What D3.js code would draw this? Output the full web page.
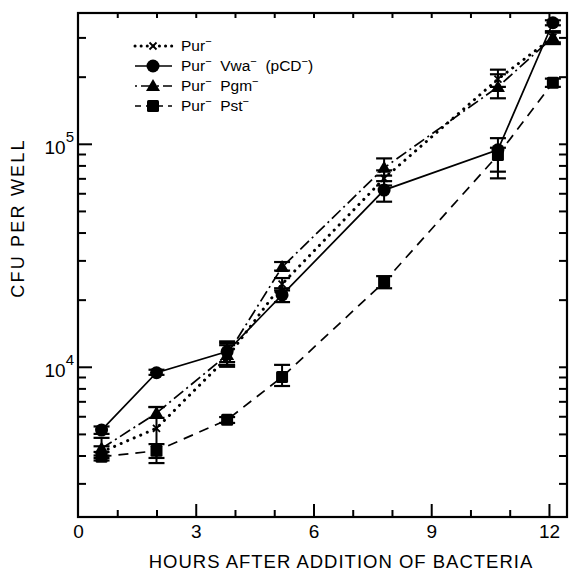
<!DOCTYPE html>
<html><head><meta charset="utf-8">
<script src="https://cdn.jsdelivr.net/npm/d3@7"></script>
<style>body{margin:0;background:#fff}svg{display:block}text{font-family:"Liberation Sans",Arial,sans-serif;fill:#000}</style>
</head><body><svg id="c" width="569" height="575"></svg>
<script>
// Data
const hours = [0.6, 2.0, 3.8, 5.2, 7.8, 10.7, 12.1];
const purVal = [4150, 5300, 11000, 23500, 70000, 195000, 300000];
const purLo  = [3900, 3900, 10000, 22000, 65000, 180000, 285000];
const purHi  = [4400, 6600, 12500, 25000, 76000, 215000, 315000];
const vwaVal = [5200, 9400, 11700, 21000, 62000, 94000, 349000];
const vwaLo  = [5000, 9200, 10500, 19500, 55000, 75000, 340000];
const vwaHi  = [5400, 9700, 13000, 22500, 68000, 106000, 358000];
const pgmVal = [4300, 6200, 11300, 28000, 78000, 180000, 300000];
const pgmLo  = [4000, 5900, 10200, 27000, 72000, 160000, 280000];
const pgmHi  = [4800, 6600, 12800, 29500, 86000, 205000, 320000];
const pstVal = [3950, 4200, 5780, 9000, 24000, 89000, 188000];
const pstLo  = [3800, 3700, 5600, 8200, 22500, 70000, 180000];
const pstHi  = [4150, 4500, 5950, 10200, 25500, 96000, 196000];
const xTickLabels = [0, 3, 6, 9, 12];
const xMinorTicks = [1, 2, 4, 5, 7, 8, 10, 11];
const yMajorTicks = [1e4, 1e5];
const yMinorTicks = [3000,4000,5000,6000,7000,8000,9000,20000,30000,40000,50000,60000,70000,80000,90000,200000,300000];

const svg = d3.select('#c');
const x = d3.scaleLinear().domain([0, 12.46]).range([78, 567]);
const y = d3.scaleLog().domain([2120, 386000]).range([517, 13]);
const X0 = 78, X1 = 567, Y0 = 517, Y1 = 13;

function styleAxis(g){ g.select('.domain').remove(); g.selectAll('.tick line').attr('stroke','#000').attr('stroke-width',2); }

// frame
svg.append('rect').attr('x',X0).attr('y',Y1).attr('width',X1-X0).attr('height',Y0-Y1)
  .attr('fill','none').attr('stroke','#000').attr('stroke-width',2.2);

// bottom
svg.append('g').attr('transform',`translate(0,${Y0})`)
  .call(d3.axisBottom(x).tickValues(xTickLabels).tickSize(-13).tickPadding(6).tickFormat(d=>d))
  .call(styleAxis).call(g=>g.selectAll('.tick text').attr('font-size',19).attr('dy','0.8em'))
  .call(g=>g.selectAll('.tick').filter(d=>d===0).select('line').remove());
svg.append('g').attr('transform',`translate(0,${Y0})`)
  .call(d3.axisBottom(x).tickValues(xMinorTicks).tickSize(-7).tickFormat(''))
  .call(styleAxis);
// top
svg.append('g').attr('transform',`translate(0,${Y1})`)
  .call(d3.axisTop(x).tickValues(d3.range(1,13)).tickSize(-5).tickFormat(''))
  .call(styleAxis);
// left
const la = svg.append('g').attr('transform',`translate(${X0},0)`)
  .call(d3.axisLeft(y).tickValues(yMajorTicks).tickSize(-14).tickPadding(14).tickFormat(''))
  .call(styleAxis);
la.selectAll('.tick').append('text').attr('x',-4).attr('y',10).attr('text-anchor','end').attr('font-size',19)
  .text('10').append('tspan').attr('font-size',15).attr('dy',-12).text(d=>Math.round(Math.log10(d)));
svg.append('g').attr('transform',`translate(${X0},0)`)
  .call(d3.axisLeft(y).tickValues(yMinorTicks).tickSize(-8).tickFormat(''))
  .call(styleAxis);
// right
svg.append('g').attr('transform',`translate(${X1},0)`)
  .call(d3.axisRight(y).tickValues(yMinorTicks.concat(yMajorTicks)).tickSize(-8).tickFormat(''))
  .call(styleAxis);

// axis titles
svg.append('text').attr('x',341).attr('y',568).attr('text-anchor','middle').attr('font-size',18.5).attr('letter-spacing',1)
  .text('HOURS AFTER ADDITION OF BACTERIA');
svg.append('text').attr('transform','translate(24,218) rotate(-90)').attr('text-anchor','middle').attr('font-size',18).attr('letter-spacing',2.2)
  .text('CFU PER WELL');

// series
const series = [
  {val: pgmVal, lo: pgmLo, hi: pgmHi, dash: '12,4,2,4', sym: 'tri'},
  {val: purVal, lo: purLo, hi: purHi, dash: '0.1,7', sym: 'x', cap: 'round', w: 3},
  {val: pstVal, lo: pstLo, hi: pstHi, dash: '10,7', sym: 'sq'},
  {val: vwaVal, lo: vwaLo, hi: vwaHi, dash: null, sym: 'circ'}
];
const line = d3.line().x(d=>x(d[0])).y(d=>y(d[1]));
function symbol(g, s, cx, cy){
  if(s==='circ') g.append('circle').attr('cx',cx).attr('cy',cy).attr('r',6.5).attr('fill','#000');
  else if(s==='tri') g.append('path').attr('d',`M${cx},${cy-7}L${cx+7},${cy+5}L${cx-7},${cy+5}Z`).attr('fill','#000');
  else if(s==='sq') g.append('rect').attr('x',cx-6).attr('y',cy-6).attr('width',12).attr('height',12).attr('rx',1.5).attr('fill','#000');
  else if(s==='x') g.append('path').attr('d',`M${cx-3.5},${cy-3.5}L${cx+3.5},${cy+3.5}M${cx+3.5},${cy-3.5}L${cx-3.5},${cy+3.5}`).attr('stroke','#000').attr('stroke-width',1.8);
}
series.forEach(s=>{
  const pts = hours.map((h,i)=>[h, s.val[i]]);
  svg.append('path').attr('d',line(pts)).attr('fill','none').attr('stroke','#000')
    .attr('stroke-width',s.w||1.7).attr('stroke-dasharray',s.dash).attr('stroke-linecap',s.cap||'butt');
  const g = svg.append('g');
  hours.forEach((h,i)=>{
    const cx = x(h);
    g.append('line').attr('x1',cx).attr('x2',cx).attr('y1',y(s.lo[i])).attr('y2',y(s.hi[i])).attr('stroke','#000').attr('stroke-width',2);
    [s.lo[i], s.hi[i]].forEach(v=>g.append('line').attr('x1',cx-8).attr('x2',cx+8).attr('y1',y(v)).attr('y2',y(v)).attr('stroke','#000').attr('stroke-width',2.2));
    symbol(g, s.sym, cx, y(s.val[i]));
  });
});

// legend
const legendNames = [
  [['Pur','−']],
  [['Pur','−'],['  Vwa','−'],['  (pCD','−'],[')','']],
  [['Pur','−'],['  Pgm','−']],
  [['Pur','−'],['  Pst','−']]
];
const legendSeries = [series[1], series[3], series[0], series[2]];
const legendY = [46, 66, 86, 106];
const legendDash = ['0.1,6', null, '2,4,12,4', '6,5'];
legendSeries.forEach((s,i)=>{
  const ly = legendY[i];
  svg.append('line').attr('x1',135).attr('x2',172).attr('y1',ly).attr('y2',ly).attr('stroke','#000')
    .attr('stroke-width',s.w||1.7).attr('stroke-dasharray',legendDash[i]).attr('stroke-linecap',s.cap||'butt');
  symbol(svg.append('g'), s.sym, 153, ly);
  const t = svg.append('text').attr('x',181).attr('y',ly+5).attr('font-size',15.5).attr('xml:space','preserve');
  let raised = false;
  legendNames[i].forEach(p=>{
    t.append('tspan').attr('dy', raised ? 6 : 0).text(p[0]);
    raised = false;
    if(p[1]){ t.append('tspan').attr('font-size',11).attr('dy',-6).text(p[1]); raised = true; }
  });
});
</script></body></html>
